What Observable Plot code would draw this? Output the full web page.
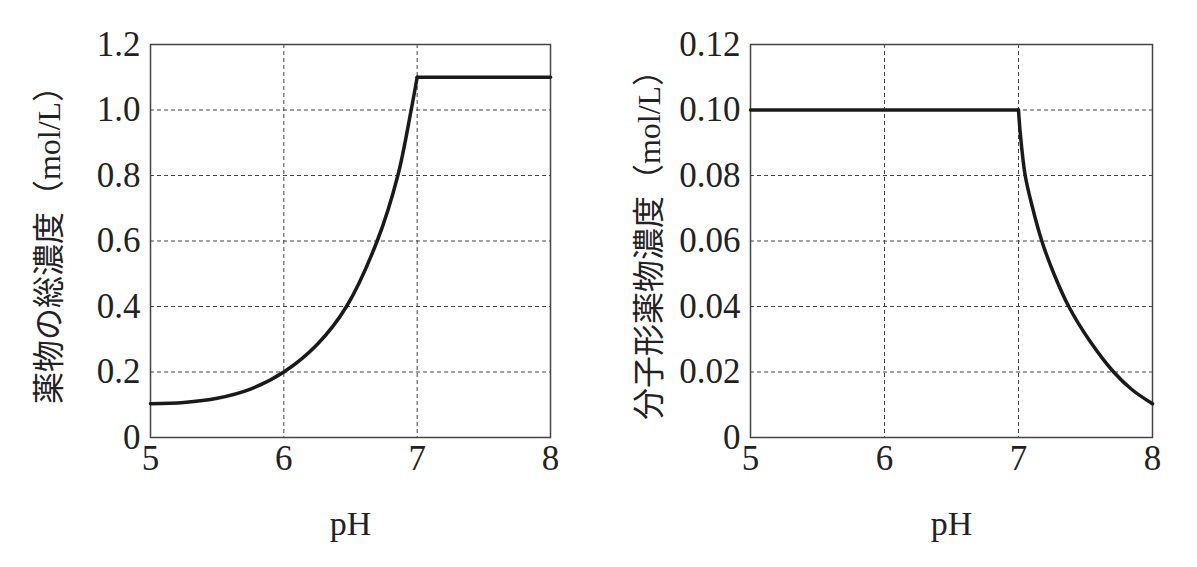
<!DOCTYPE html>
<html><head><meta charset="utf-8">
<script src="https://cdn.jsdelivr.net/npm/d3@7"></script>
<script src="https://cdn.jsdelivr.net/npm/@observablehq/plot@0.6"></script>
<style>
body{margin:0;background:#fff;}
#wrap{display:flex;width:1197px;height:567px;}
</style></head>
<body><div id="wrap"></div>
<script>
// pH ticks
const xTicks = [5, 6, 7, 8];
// left panel: total drug concentration (mol/L)
const leftLabel = "薬物の総濃度（mol/L）";
const leftYTicks = [0, 0.2, 0.4, 0.6, 0.8, 1.0, 1.2];
const leftYTickLabels = ["0", "0.2", "0.4", "0.6", "0.8", "1.0", "1.2"];
const leftCurvePH = [5.0, 5.25, 5.5, 5.75, 6.0, 6.25, 6.47, 6.70, 6.855, 6.955, 7.0];
const leftCurveC  = [0.103, 0.107, 0.120, 0.148, 0.200, 0.284, 0.400, 0.600, 0.800, 1.000, 1.100];
const leftFlatPH = [7.0, 8.0];
const leftFlatC  = [1.1, 1.1];
// right panel: molecular-form drug concentration (mol/L)
const rightLabel = "分子形薬物濃度（mol/L）";
const rightYTicks = [0, 0.02, 0.04, 0.06, 0.08, 0.10, 0.12];
const rightYTickLabels = ["0", "0.02", "0.04", "0.06", "0.08", "0.10", "0.12"];
const rightFlatPH = [5.0, 7.0];
const rightFlatC  = [0.1, 0.1];
const rightCurvePH = [7.0, 7.013, 7.05, 7.104, 7.174, 7.264, 7.375, 7.53, 7.71, 7.85, 8.0];
const rightCurveC  = [0.100, 0.093, 0.080, 0.0703, 0.060, 0.050, 0.040, 0.0296, 0.020, 0.0145, 0.0103];
const xLabel = "pH";

function pts(xs, ys){ return xs.map((x,i)=>({x, y: ys[i]})); }

function chart({width, marginRight, yTicks, yTickLabels, label, curve, flat}){
  const ymax = yTicks[yTicks.length-1];
  const fmt = new Map(yTicks.map((t,i)=>[t, yTickLabels[i]]));
  const serif = "'Liberation Serif', 'DejaVu Serif', serif";
  return Plot.plot({
    width, height: 567,
    marginLeft: 150, marginRight, marginTop: 44, marginBottom: 130,
    style: {fontFamily: serif, fontSize: "35px", color: "#222", background: "#fff"},
    x: {domain: [5, 8]},
    y: {domain: [0, ymax]},
    marks: [
      Plot.gridY(yTicks.slice(1, -1), {stroke: "#444", strokeOpacity: 1, strokeDasharray: "4,3", strokeWidth: 1}),
      Plot.gridX(xTicks.slice(1, -1), {stroke: "#444", strokeOpacity: 1, strokeDasharray: "4,3", strokeWidth: 1}),
      Plot.frame({stroke: "#444", strokeWidth: 1.5}),
      Plot.axisY(yTicks, {tickSize: 0, tickPadding: 10, tickFormat: d => fmt.get(d), label: null, fontSize: 35}),
      Plot.axisX(xTicks, {tickSize: 0, tickPadding: 8, tickFormat: d => String(d), label: null, fontSize: 35}),
      Plot.line(flat, {x: "x", y: "y", stroke: "#1a1a1a", strokeWidth: 3.5}),
      Plot.line(curve, {x: "x", y: "y", stroke: "#1a1a1a", strokeWidth: 3.5, curve: "catmull-rom"}),
      Plot.text([xLabel], {frameAnchor: "bottom", dy: 97, text: d => d, fontSize: 34, fill: "#222"}),
      Plot.text([label], {frameAnchor: "left", rotate: -90, dx: -101, dy: -4, textAnchor: "middle", text: d => d, fontSize: 32, fill: "#222",
        fontFamily: "'Liberation Serif', 'Noto Sans CJK JP', serif"})
    ]
  });
}

const wrap = document.getElementById("wrap");
wrap.append(chart({width: 600, marginRight: 50, yTicks: leftYTicks, yTickLabels: leftYTickLabels, label: leftLabel,
  curve: pts(leftCurvePH, leftCurveC), flat: pts(leftFlatPH, leftFlatC)}));
wrap.append(chart({width: 597, marginRight: 45, yTicks: rightYTicks, yTickLabels: rightYTickLabels, label: rightLabel,
  curve: pts(rightCurvePH, rightCurveC), flat: pts(rightFlatPH, rightFlatC)}));
</script></body></html>
